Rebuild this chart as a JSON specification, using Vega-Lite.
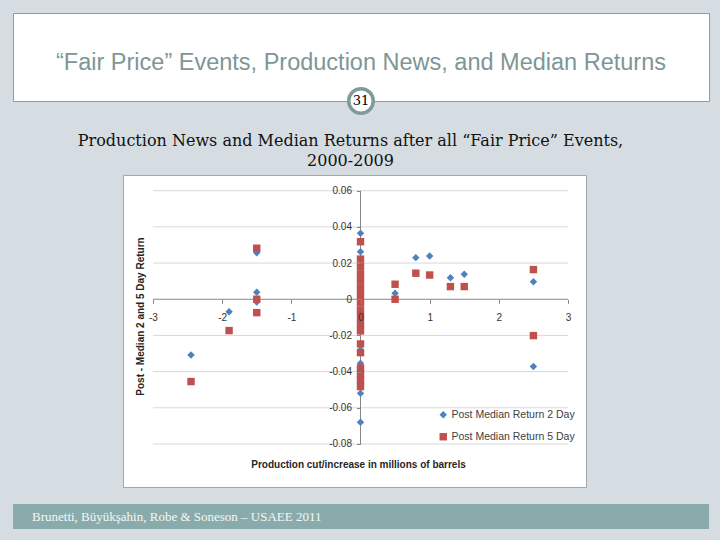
{
  "$schema": "https://vega.github.io/schema/vega-lite/v6.json",
  "background": "#d5dde2",
  "padding": {"left": 12, "top": 12, "right": 12, "bottom": 12},
  "spacing": 0,
  "align": "none",
  "config": {
    "view": {"stroke": null},
    "locale": {"number": {"decimal": ".", "thousands": ",", "grouping": [3], "currency": ["$", ""], "minus": "-"}},
    "axis": {"labelFont": "Liberation Sans", "titleFont": "Liberation Sans"}
  },
  "datasets": {
    "returns": [
      {"production": -2.45, "ret": -0.0308, "series": "Post Median Return 2 Day"},
      {"production": -1.9, "ret": -0.0069, "series": "Post Median Return 2 Day"},
      {"production": -1.5, "ret": 0.0257, "series": "Post Median Return 2 Day"},
      {"production": -1.5, "ret": 0.0039, "series": "Post Median Return 2 Day"},
      {"production": -1.5, "ret": -0.0015, "series": "Post Median Return 2 Day"},
      {"production": 0, "ret": 0.0365, "series": "Post Median Return 2 Day"},
      {"production": 0, "ret": 0.0263, "series": "Post Median Return 2 Day"},
      {"production": 0, "ret": 0.012, "series": "Post Median Return 2 Day"},
      {"production": 0, "ret": 0.004, "series": "Post Median Return 2 Day"},
      {"production": 0, "ret": -0.008, "series": "Post Median Return 2 Day"},
      {"production": 0, "ret": -0.016, "series": "Post Median Return 2 Day"},
      {"production": 0, "ret": -0.028, "series": "Post Median Return 2 Day"},
      {"production": 0, "ret": -0.0354, "series": "Post Median Return 2 Day"},
      {"production": 0, "ret": -0.044, "series": "Post Median Return 2 Day"},
      {"production": 0, "ret": -0.052, "series": "Post Median Return 2 Day"},
      {"production": 0, "ret": -0.068, "series": "Post Median Return 2 Day"},
      {"production": 0.5, "ret": 0.0033, "series": "Post Median Return 2 Day"},
      {"production": 0.8, "ret": 0.023, "series": "Post Median Return 2 Day"},
      {"production": 1.0, "ret": 0.0239, "series": "Post Median Return 2 Day"},
      {"production": 1.3, "ret": 0.0119, "series": "Post Median Return 2 Day"},
      {"production": 1.5, "ret": 0.0138, "series": "Post Median Return 2 Day"},
      {"production": 2.5, "ret": 0.0097, "series": "Post Median Return 2 Day"},
      {"production": 2.5, "ret": -0.0372, "series": "Post Median Return 2 Day"},
      {"production": -2.45, "ret": -0.0455, "series": "Post Median Return 5 Day"},
      {"production": -1.9, "ret": -0.0173, "series": "Post Median Return 5 Day"},
      {"production": -1.5, "ret": 0.0282, "series": "Post Median Return 5 Day"},
      {"production": -1.5, "ret": 0.0, "series": "Post Median Return 5 Day"},
      {"production": -1.5, "ret": -0.0074, "series": "Post Median Return 5 Day"},
      {"production": 0, "ret": 0.0318, "series": "Post Median Return 5 Day"},
      {"production": 0, "ret": 0.0222, "series": "Post Median Return 5 Day"},
      {"production": 0, "ret": 0.018, "series": "Post Median Return 5 Day"},
      {"production": 0, "ret": 0.014, "series": "Post Median Return 5 Day"},
      {"production": 0, "ret": 0.010, "series": "Post Median Return 5 Day"},
      {"production": 0, "ret": 0.006, "series": "Post Median Return 5 Day"},
      {"production": 0, "ret": 0.002, "series": "Post Median Return 5 Day"},
      {"production": 0, "ret": -0.002, "series": "Post Median Return 5 Day"},
      {"production": 0, "ret": -0.006, "series": "Post Median Return 5 Day"},
      {"production": 0, "ret": -0.010, "series": "Post Median Return 5 Day"},
      {"production": 0, "ret": -0.014, "series": "Post Median Return 5 Day"},
      {"production": 0, "ret": -0.0175, "series": "Post Median Return 5 Day"},
      {"production": 0, "ret": -0.0247, "series": "Post Median Return 5 Day"},
      {"production": 0, "ret": -0.0295, "series": "Post Median Return 5 Day"},
      {"production": 0, "ret": -0.038, "series": "Post Median Return 5 Day"},
      {"production": 0, "ret": -0.0413, "series": "Post Median Return 5 Day"},
      {"production": 0, "ret": -0.0446, "series": "Post Median Return 5 Day"},
      {"production": 0, "ret": -0.0483, "series": "Post Median Return 5 Day"},
      {"production": 0.5, "ret": 0.0083, "series": "Post Median Return 5 Day"},
      {"production": 0.5, "ret": 0.0, "series": "Post Median Return 5 Day"},
      {"production": 0.8, "ret": 0.0144, "series": "Post Median Return 5 Day"},
      {"production": 1.0, "ret": 0.0134, "series": "Post Median Return 5 Day"},
      {"production": 1.3, "ret": 0.007, "series": "Post Median Return 5 Day"},
      {"production": 1.5, "ret": 0.007, "series": "Post Median Return 5 Day"},
      {"production": 2.5, "ret": 0.0164, "series": "Post Median Return 5 Day"},
      {"production": 2.5, "ret": -0.0201, "series": "Post Median Return 5 Day"}
    ],
    "gridlines": [
      {"g": 0.06}, {"g": 0.04}, {"g": 0.02}, {"g": -0.02}, {"g": -0.04}, {"g": -0.06}, {"g": -0.08}
    ]
  },
  "vconcat": [
    {
      "width": 696,
      "height": 88,
      "view": {"fill": "white", "stroke": "#8d9d9d", "strokeWidth": 1},
      "data": {"values": [{"slide": 31}]},
      "layer": [
        {
          "mark": {"type": "text", "font": "Liberation Sans", "fontSize": 23.5, "color": "#7d9696", "baseline": "middle", "align": "center"},
          "encoding": {
            "x": {"datum": 0, "type": "quantitative", "scale": {"domain": [-1, 1]}, "axis": {"orient": "bottom", "domain": false, "ticks": false, "labels": false, "grid": false, "title": null, "minExtent": 30, "maxExtent": 30}},
            "y": {"datum": 0.43, "type": "quantitative", "scale": {"domain": [0, 1]}, "axis": null},
            "text": {"value": "“Fair Price” Events, Production News, and Median Returns"}
          }
        },
        {
          "mark": {"type": "circle", "fill": "white", "stroke": "#7f9a9a", "strokeWidth": 3.5, "size": 600, "opacity": 1, "fillOpacity": 1},
          "encoding": {
            "x": {"datum": 0, "type": "quantitative"},
            "y": {"datum": 0, "type": "quantitative"}
          }
        },
        {
          "mark": {"type": "text", "font": "DejaVu Serif", "fontSize": 13, "color": "black", "baseline": "middle", "align": "center"},
          "encoding": {
            "x": {"datum": 0, "type": "quantitative"},
            "y": {"datum": 0, "type": "quantitative"},
            "text": {"field": "slide", "type": "nominal"}
          }
        }
      ]
    },
    {
      "spacing": 0,
      "bounds": "flush",
      "hconcat": [
        {
          "width": 110,
          "height": 312,
          "data": {"values": []},
          "mark": "point"
        },
        {
          "width": 463,
          "height": 312,
          "view": {"fill": "white", "stroke": "#a6a6a6", "strokeWidth": 1},
          "title": {
            "text": ["Production News and Median Returns after all “Fair Price” Events,", "2000-2009"],
            "font": "DejaVu Serif",
            "fontSize": 16,
            "fontWeight": "normal",
            "color": "#111111",
            "lineHeight": 20,
            "anchor": "middle",
            "frame": "group",
            "offset": 6,
            "dx": -4
          },
          "layer": [
            {
              "data": {"name": "gridlines"},
              "mark": {"type": "rule", "color": "#d9d9d9", "strokeWidth": 1},
              "encoding": {
                "x": {"datum": -3, "type": "quantitative", "scale": {"domain": [-3.4337, 3.2602], "nice": false, "zero": false}},
                "x2": {"datum": 3},
                "y": {"field": "g", "type": "quantitative", "scale": {"domain": [-0.10377, 0.06868], "nice": false, "zero": false}}
              }
            },
            {
              "data": {"values": [{}]},
              "mark": {"type": "rule", "color": "#868686", "strokeWidth": 1},
              "encoding": {
                "x": {"datum": -3, "type": "quantitative"},
                "x2": {"datum": 3},
                "y": {"datum": 0, "type": "quantitative"}
              }
            },
            {
              "data": {"values": [{}]},
              "mark": {"type": "rule", "color": "#868686", "strokeWidth": 1},
              "encoding": {
                "x": {"datum": 0, "type": "quantitative"},
                "y": {"datum": -0.08, "type": "quantitative"},
                "y2": {"datum": 0.06}
              }
            },
            {
              "data": {"name": "returns"},
              "mark": {"type": "point", "filled": true, "size": 55, "opacity": 1},
              "encoding": {
                "x": {
                  "field": "production", "type": "quantitative",
                  "scale": {"domain": [-3.4337, 3.2602], "nice": false, "zero": false},
                  "axis": {
                    "orient": "bottom", "offset": -187.7, "values": [-3, -2, -1, 0, 1, 2, 3], "format": "d",
                    "domain": false, "grid": false, "ticks": true, "tickSize": 4, "tickColor": "#868686",
                    "labelFontSize": 10, "labelColor": "#333333", "labelPadding": 9, "labelFlush": false,
                    "title": "Production cut/increase in millions of barrels",
                    "titleFontSize": 10, "titleFontWeight": "bold", "titleColor": "#262626",
                    "titleX": 235, "titleY": 164.7, "titleBaseline": "middle", "titleAnchor": "middle",
                    "zindex": 1
                  }
                },
                "y": {
                  "field": "ret", "type": "quantitative",
                  "scale": {"domain": [-0.10377, 0.06868], "nice": false, "zero": false},
                  "axis": {
                    "orient": "left", "offset": -237.5, "values": [-0.08, -0.06, -0.04, -0.02, 0, 0.02, 0.04, 0.06], "format": "~g",
                    "domain": false, "grid": false, "ticks": true, "tickSize": 4, "tickColor": "#868686",
                    "labelFontSize": 10, "labelColor": "#333333", "labelPadding": 5, "labelFlush": false,
                    "title": "Post - Median 2 and 5 Day Return",
                    "titleFontSize": 10, "titleFontWeight": "bold", "titleColor": "#262626",
                    "titleX": -220.5, "titleY": 141, "titleAngle": 270, "titleBaseline": "middle", "titleAnchor": "middle",
                    "zindex": 1
                  }
                },
                "color": {
                  "field": "series", "type": "nominal",
                  "scale": {"domain": ["Post Median Return 2 Day", "Post Median Return 5 Day"], "range": ["#4f81bd", "#c0504d"]},
                  "legend": {"orient": "none", "legendX": 425, "legendY": 396.5, "title": null, "padding": 0, "labelFont": "Liberation Sans", "labelFontSize": 10.5, "labelColor": "#404040", "symbolSize": 55, "rowPadding": 11, "labelOffset": 3}
                },
                "shape": {
                  "field": "series", "type": "nominal",
                  "scale": {"domain": ["Post Median Return 2 Day", "Post Median Return 5 Day"], "range": ["diamond", "square"]},
                  "legend": {"orient": "none", "legendX": 425, "legendY": 396.5, "title": null, "padding": 0, "labelFont": "Liberation Sans", "labelFontSize": 10.5, "labelColor": "#404040", "symbolSize": 55, "rowPadding": 11, "labelOffset": 3}
                }
              }
            }
          ]
        }
      ]
    },
    {
      "width": 696,
      "height": 25,
      "view": {"fill": "#8aabab"},
      "data": {"values": [{}]},
      "mark": {"type": "text", "align": "left", "baseline": "middle", "dx": 19, "font": "Liberation Serif", "fontSize": 13, "color": "#f4f7f7"},
      "encoding": {
        "x": {"datum": 0, "type": "quantitative", "scale": {"domain": [0, 1]}, "axis": {"orient": "top", "domain": false, "ticks": false, "labels": false, "grid": false, "title": null, "minExtent": 16, "maxExtent": 16}},
        "text": {"value": "Brunetti, Büyükşahin, Robe & Soneson – USAEE 2011"}
      }
    }
  ]
}
